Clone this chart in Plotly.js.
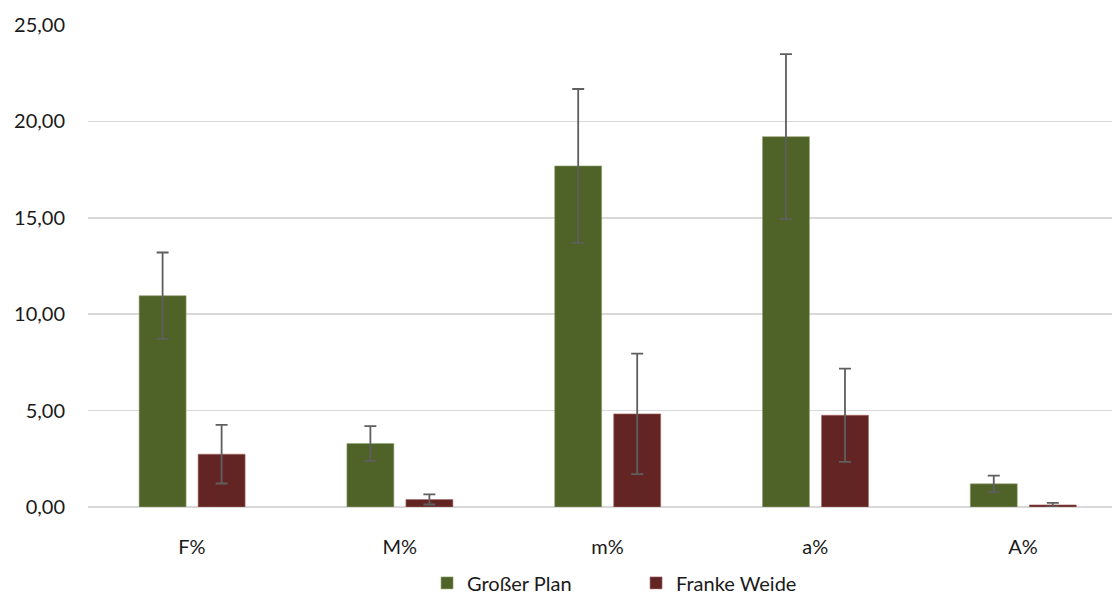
<!DOCTYPE html>
<html>
<head>
<meta charset="utf-8">
<script src="https://cdn.plot.ly/plotly-3.0.1.min.js"></script>
<style>html,body{margin:0;padding:0;background:#fff;}#chart{width:1115px;height:596px;}</style>
</head>
<body>
<div id="chart"></div>
<script>
const categories = ["F%", "M%", "m%", "a%", "A%"];
const seriesNames = ["Großer Plan", "Franke Weide"];
const grosserPlan = [10.96, 3.29, 17.69, 19.21, 1.20];
const grosserPlanErr = [2.24, 0.90, 3.99, 4.28, 0.43];
const frankeWeide = [2.74, 0.39, 4.83, 4.76, 0.11];
const frankeWeideErr = [1.52, 0.26, 3.12, 2.42, 0.10];
const yTicks = [0, 5, 10, 15, 20, 25];

const xIdx = categories.map((c, i) => i);
const errStyle = {type: 'data', visible: true, color: '#5f5f5f', thickness: 1.8, width: 6};

const traces = [
  {type: 'bar', name: seriesNames[0], x: xIdx, y: grosserPlan,
   error_y: Object.assign({array: grosserPlanErr}, errStyle),
   marker: {color: '#4f6228', line: {color: '#93a46f', width: 0.6}},
   width: 0.226, offset: -0.254},
  {type: 'bar', name: seriesNames[1], x: xIdx, y: frankeWeide,
   error_y: Object.assign({array: frankeWeideErr}, errStyle),
   marker: {color: '#632523', line: {color: '#a86a68', width: 0.6}},
   width: 0.226, offset: 0.030}
];

const layout = {
  width: 1115, height: 596,
  margin: {l: 88, r: 3, t: 25, b: 88.5, autoexpand: false},
  paper_bgcolor: '#ffffff', plot_bgcolor: '#ffffff',
  font: {family: 'Lato, "Open Sans", sans-serif', size: 20, color: '#1a1a1a'},
  separators: ',.',
  barmode: 'overlay',
  showlegend: true,
  legend: {orientation: 'h', xref: 'container', yref: 'container',
           x: 0.383, xanchor: 'left', y: 0.022, yanchor: 'middle',
           font: {size: 20, color: '#1a1a1a'}, entrywidth: 164, entrywidthmode: 'pixels',
           itemwidth: 30, tracegroupgap: 0},
  xaxis: {range: [-0.5, 4.428], tickmode: 'array', tickvals: xIdx, ticktext: categories,
          showgrid: false, zeroline: false, showline: false, ticks: '', fixedrange: true,
          automargin: false, ticklabelstandoff: 26},
  yaxis: {range: [0, 25], tickmode: 'array', tickvals: yTicks, tickformat: '.2f',
          showgrid: true, gridcolor: '#d9d9d9', gridwidth: 1.5, zeroline: true,
          zerolinecolor: '#d9d9d9', zerolinewidth: 1.5, showline: false, ticks: '',
          automargin: false, ticklabelstandoff: 22}
};

Plotly.newPlot('chart', traces, layout, {displayModeBar: false, staticPlot: true});
</script>
</body>
</html>
